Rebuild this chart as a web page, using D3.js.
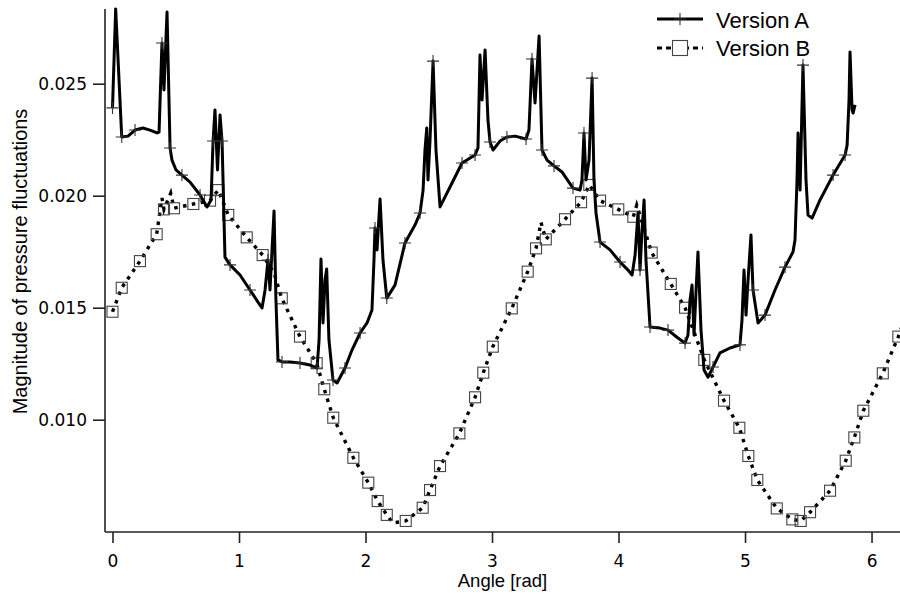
<!DOCTYPE html>
<html>
<head>
<meta charset="utf-8">
<script src="https://cdn.jsdelivr.net/npm/d3@7"></script>
<style>
  html, body { margin: 0; padding: 0; background: #fff; }
  svg { display: block; }
</style>
</head>
<body>
<svg id="chart" width="900" height="594"></svg>
<script>
// Pressure-fluctuation magnitude vs. angle for two design versions.
// Each entry: [angle (rad), magnitude, marker flag]
const versionA = [
  [0.000, 0.02392, 1], [0.025, 0.02834, 0], [0.073, 0.02262, 1], [0.123, 0.02266, 0],
  [0.178, 0.02293, 1], [0.241, 0.02302, 0], [0.296, 0.02293, 0], [0.352, 0.02280, 0],
  [0.368, 0.02284, 0], [0.391, 0.02682, 1], [0.407, 0.02472, 0], [0.431, 0.02820, 0],
  [0.455, 0.02213, 1], [0.470, 0.02159, 0], [0.502, 0.02115, 0], [0.549, 0.02092, 1],
  [0.613, 0.02061, 0], [0.692, 0.02003, 1], [0.747, 0.01950, 0], [0.779, 0.01981, 0],
  [0.795, 0.02244, 1], [0.810, 0.02383, 0], [0.830, 0.02115, 0], [0.850, 0.02360, 0],
  [0.866, 0.02244, 1], [0.889, 0.01726, 0], [0.929, 0.01691, 1], [1.008, 0.01646, 0],
  [1.087, 0.01579, 1], [1.150, 0.01525, 0], [1.182, 0.01499, 0], [1.206, 0.01579, 0],
  [1.229, 0.01713, 1], [1.245, 0.01579, 0], [1.261, 0.01758, 0], [1.277, 0.01932, 0],
  [1.292, 0.01534, 0], [1.308, 0.01267, 0], [1.340, 0.01258, 1], [1.403, 0.01258, 0],
  [1.482, 0.01253, 1], [1.561, 0.01244, 0], [1.617, 0.01231, 1], [1.633, 0.01356, 0],
  [1.648, 0.01717, 0], [1.664, 0.01432, 0], [1.680, 0.01624, 0], [1.693, 0.01673, 0],
  [1.711, 0.01356, 0], [1.743, 0.01177, 1], [1.775, 0.01164, 0], [1.838, 0.01231, 1],
  [1.893, 0.01311, 0], [1.957, 0.01387, 1], [2.012, 0.01432, 0], [2.051, 0.01490, 0],
  [2.067, 0.01713, 0], [2.075, 0.01856, 1], [2.091, 0.01758, 0], [2.115, 0.01985, 0],
  [2.138, 0.01713, 0], [2.168, 0.01543, 1], [2.233, 0.01601, 0], [2.312, 0.01789, 1],
  [2.391, 0.01869, 0], [2.431, 0.01923, 1], [2.455, 0.02025, 0], [2.470, 0.02204, 0],
  [2.484, 0.02302, 0], [2.494, 0.02070, 0], [2.510, 0.02249, 0], [2.534, 0.02601, 1],
  [2.557, 0.02204, 0], [2.589, 0.01950, 0], [2.668, 0.02039, 0], [2.763, 0.02146, 1],
  [2.866, 0.02182, 1], [2.889, 0.02213, 0], [2.905, 0.02628, 0], [2.921, 0.02427, 0],
  [2.945, 0.02651, 0], [2.968, 0.02338, 0], [2.984, 0.02240, 1], [3.008, 0.02204, 0],
  [3.063, 0.02244, 0], [3.118, 0.02262, 1], [3.182, 0.02266, 0], [3.269, 0.02253, 1],
  [3.292, 0.02293, 0], [3.316, 0.02610, 1], [3.340, 0.02414, 0], [3.372, 0.02713, 0],
  [3.395, 0.02204, 1], [3.435, 0.02159, 0], [3.490, 0.02133, 1], [3.553, 0.02106, 0],
  [3.640, 0.02034, 1], [3.696, 0.02025, 0], [3.711, 0.02070, 0], [3.727, 0.02280, 1],
  [3.743, 0.02070, 0], [3.767, 0.02159, 0], [3.791, 0.02525, 1], [3.806, 0.02070, 0],
  [3.822, 0.01923, 0], [3.854, 0.01793, 1], [3.933, 0.01758, 0], [4.012, 0.01704, 1],
  [4.075, 0.01668, 0], [4.107, 0.01646, 0], [4.131, 0.01735, 0], [4.154, 0.01923, 0],
  [4.170, 0.01668, 1], [4.186, 0.01847, 0], [4.202, 0.01981, 0], [4.217, 0.01713, 0],
  [4.249, 0.01414, 1], [4.328, 0.01409, 0], [4.391, 0.01400, 1], [4.470, 0.01365, 0],
  [4.526, 0.01342, 1], [4.549, 0.01378, 0], [4.565, 0.01534, 0], [4.581, 0.01601, 0],
  [4.597, 0.01378, 0], [4.613, 0.01579, 0], [4.628, 0.01749, 0], [4.652, 0.01400, 0],
  [4.676, 0.01222, 0], [4.708, 0.01190, 0], [4.747, 0.01235, 1], [4.802, 0.01298, 0],
  [4.881, 0.01320, 0], [4.960, 0.01334, 1], [4.976, 0.01445, 0], [4.992, 0.01668, 0],
  [5.008, 0.01467, 0], [5.024, 0.01624, 0], [5.047, 0.01825, 0], [5.063, 0.01579, 1],
  [5.103, 0.01432, 0], [5.158, 0.01467, 1], [5.237, 0.01579, 0], [5.316, 0.01681, 1],
  [5.379, 0.01749, 0], [5.395, 0.01802, 0], [5.411, 0.02070, 0], [5.419, 0.02280, 0],
  [5.435, 0.02025, 0], [5.458, 0.02583, 1], [5.482, 0.02070, 0], [5.498, 0.01914, 0],
  [5.530, 0.01900, 0], [5.593, 0.01981, 0], [5.696, 0.02092, 1], [5.791, 0.02182, 1],
  [5.807, 0.02226, 0], [5.822, 0.02427, 0], [5.830, 0.02642, 0], [5.846, 0.02383, 0],
  [5.854, 0.02369, 0], [5.870, 0.02405, 0]
];

const versionB = [
  [0.000, 0.01482, 1], [0.073, 0.01589, 1], [0.217, 0.01708, 1], [0.349, 0.01828, 1],
  [0.391, 0.01990, 0], [0.407, 0.01939, 1], [0.460, 0.02011, 0], [0.486, 0.01944, 1],
  [0.639, 0.01963, 1], [0.771, 0.01978, 1], [0.836, 0.02025, 1], [0.915, 0.01914, 1],
  [1.061, 0.01814, 1], [1.187, 0.01735, 1], [1.277, 0.01655, 0], [1.338, 0.01542, 1],
  [1.482, 0.01371, 1], [1.614, 0.01252, 1], [1.674, 0.01136, 1], [1.745, 0.01009, 1],
  [1.904, 0.00830, 1], [2.022, 0.00719, 1], [2.096, 0.00637, 1], [2.168, 0.00575, 1],
  [2.217, 0.00539, 0], [2.318, 0.00548, 1], [2.452, 0.00607, 1], [2.510, 0.00686, 1],
  [2.589, 0.00793, 1], [2.742, 0.00939, 1], [2.866, 0.01100, 1], [2.931, 0.01210, 1],
  [3.006, 0.01326, 1], [3.156, 0.01497, 1], [3.282, 0.01661, 1], [3.348, 0.01765, 1],
  [3.387, 0.01881, 0], [3.425, 0.01805, 1], [3.577, 0.01895, 1], [3.704, 0.01971, 1],
  [3.769, 0.02048, 1], [3.854, 0.01978, 1], [3.998, 0.01939, 1], [4.117, 0.01906, 1],
  [4.144, 0.01958, 0], [4.262, 0.01746, 1], [4.413, 0.01606, 1], [4.526, 0.01500, 1],
  [4.678, 0.01267, 1], [4.834, 0.01085, 1], [4.955, 0.00964, 1], [5.026, 0.00838, 1],
  [5.097, 0.00731, 1], [5.251, 0.00604, 1], [5.374, 0.00555, 1], [5.440, 0.00548, 1],
  [5.514, 0.00587, 1], [5.672, 0.00683, 1], [5.796, 0.00817, 1], [5.864, 0.00921, 1],
  [5.935, 0.01040, 1], [6.089, 0.01207, 1], [6.212, 0.01371, 1], [6.283, 0.01482, 0]
];

const angleTicks = [0, 1, 2, 3, 4, 5, 6];
const magnitudeTicks = [0.010, 0.015, 0.020, 0.025];
const seriesNames = ["Version A", "Version B"];
const angleDomain = [-0.0593, 6.225];
const magnitudeDomain = [0.004987, 0.028335];

const svg = d3.select("#chart");
const plot = { left: 105, right: 900, top: 9, bottom: 532 };

const x = d3.scaleLinear().domain(angleDomain).range([plot.left, plot.right]);
const y = d3.scaleLinear().domain(magnitudeDomain).range([plot.bottom, plot.top]);

svg.append("defs").append("clipPath").attr("id", "plot-clip")
  .append("rect")
  .attr("x", plot.left).attr("y", plot.top - 2)
  .attr("width", plot.right - plot.left).attr("height", plot.bottom - plot.top + 2);

const tickFont = "'DejaVu Sans', Verdana, sans-serif";
const titleFont = "'Liberation Sans', Arial, Helvetica, sans-serif";

// Axes
const xAxis = d3.axisBottom(x).tickValues(angleTicks).tickFormat(d3.format("d"))
  .tickSize(11).tickSizeOuter(0).tickPadding(12);
const yAxis = d3.axisLeft(y).tickValues(magnitudeTicks).tickFormat(d3.format(".3f"))
  .tickSize(12).tickSizeOuter(0).tickPadding(6);

const gx = svg.append("g").attr("transform", `translate(0,${plot.bottom})`).call(xAxis);
const gy = svg.append("g").attr("transform", `translate(${plot.left},0)`).call(yAxis);
gx.select(".domain").attr("d", `M${plot.left},0H${plot.right}`);
gy.select(".domain").attr("d", `M0,${plot.top}V${plot.bottom}`);
[gx, gy].forEach(g => {
  g.select(".domain").attr("stroke", "#222").attr("stroke-width", 1.6);
  g.selectAll(".tick line").attr("stroke", "#222").attr("stroke-width", 1.6);
  g.selectAll(".tick text").attr("fill", "#000")
    .style("font-family", tickFont).style("font-size", "17px");
});

// Axis titles
svg.append("text")
  .attr("x", (plot.left + plot.right) / 2).attr("y", 587)
  .attr("text-anchor", "middle")
  .style("font-family", titleFont).style("font-size", "18.5px")
  .text("Angle [rad]");

svg.append("text")
  .attr("transform", `translate(26.5,${261.5}) rotate(-90)`)
  .attr("text-anchor", "middle")
  .style("font-family", titleFont).style("font-size", "20px")
  .text("Magnitude of pressure fluctuations");

const marks = svg.append("g").attr("clip-path", "url(#plot-clip)");

const line = d3.line().x(d => x(d[0])).y(d => y(d[1]));

// Version B: dotted line with open square markers
marks.append("path")
  .datum(versionB)
  .attr("fill", "none")
  .attr("stroke", "#000")
  .attr("stroke-width", 3.4)
  .attr("stroke-dasharray", "3.5,5.5")
  .attr("d", line);

const sq = 11;
marks.append("g").selectAll("rect")
  .data(versionB.filter(d => d[2]))
  .join("rect")
  .attr("x", d => x(d[0]) - sq / 2)
  .attr("y", d => y(d[1]) - sq / 2)
  .attr("width", sq).attr("height", sq)
  .attr("fill", "none")
  .attr("stroke", "#444")
  .attr("stroke-width", 1.1);

// Version A: solid line with plus markers
marks.append("path")
  .datum(versionA)
  .attr("fill", "none")
  .attr("stroke", "#000")
  .attr("stroke-width", 3)
  .attr("stroke-linejoin", "round")
  .attr("d", line);

const plusPath = "M-6,0H6M0,-6V6";
marks.append("g").selectAll("path")
  .data(versionA.filter(d => d[2]))
  .join("path")
  .attr("transform", d => `translate(${x(d[0])},${y(d[1])})`)
  .attr("d", plusPath)
  .attr("fill", "none")
  .attr("stroke", "#333")
  .attr("stroke-width", 1.1);

// Legend
const legend = svg.append("g");
const lx0 = 657, lx1 = 703, lcx = 680;
const rowA = 19, rowB = 48;

legend.append("line")
  .attr("x1", lx0).attr("x2", lx1).attr("y1", rowA).attr("y2", rowA)
  .attr("stroke", "#000").attr("stroke-width", 3);
legend.append("path")
  .attr("transform", `translate(${lcx},${rowA})`)
  .attr("d", plusPath)
  .attr("stroke", "#333").attr("stroke-width", 1.1);

legend.append("line")
  .attr("x1", lx0).attr("x2", lx1).attr("y1", rowB).attr("y2", rowB)
  .attr("stroke", "#000").attr("stroke-width", 3)
  .attr("stroke-dasharray", "5,4");
legend.append("rect")
  .attr("x", lcx - 7.5).attr("y", rowB - 7.5)
  .attr("width", 15).attr("height", 15)
  .attr("fill", "#fff").attr("stroke", "#444").attr("stroke-width", 1.1);

legend.selectAll("text")
  .data(seriesNames)
  .join("text")
  .attr("x", 716)
  .attr("y", (d, i) => i === 0 ? 27.5 : 55.5)
  .style("font-family", titleFont).style("font-size", "22px")
  .text(d => d);
</script>
</body>
</html>
